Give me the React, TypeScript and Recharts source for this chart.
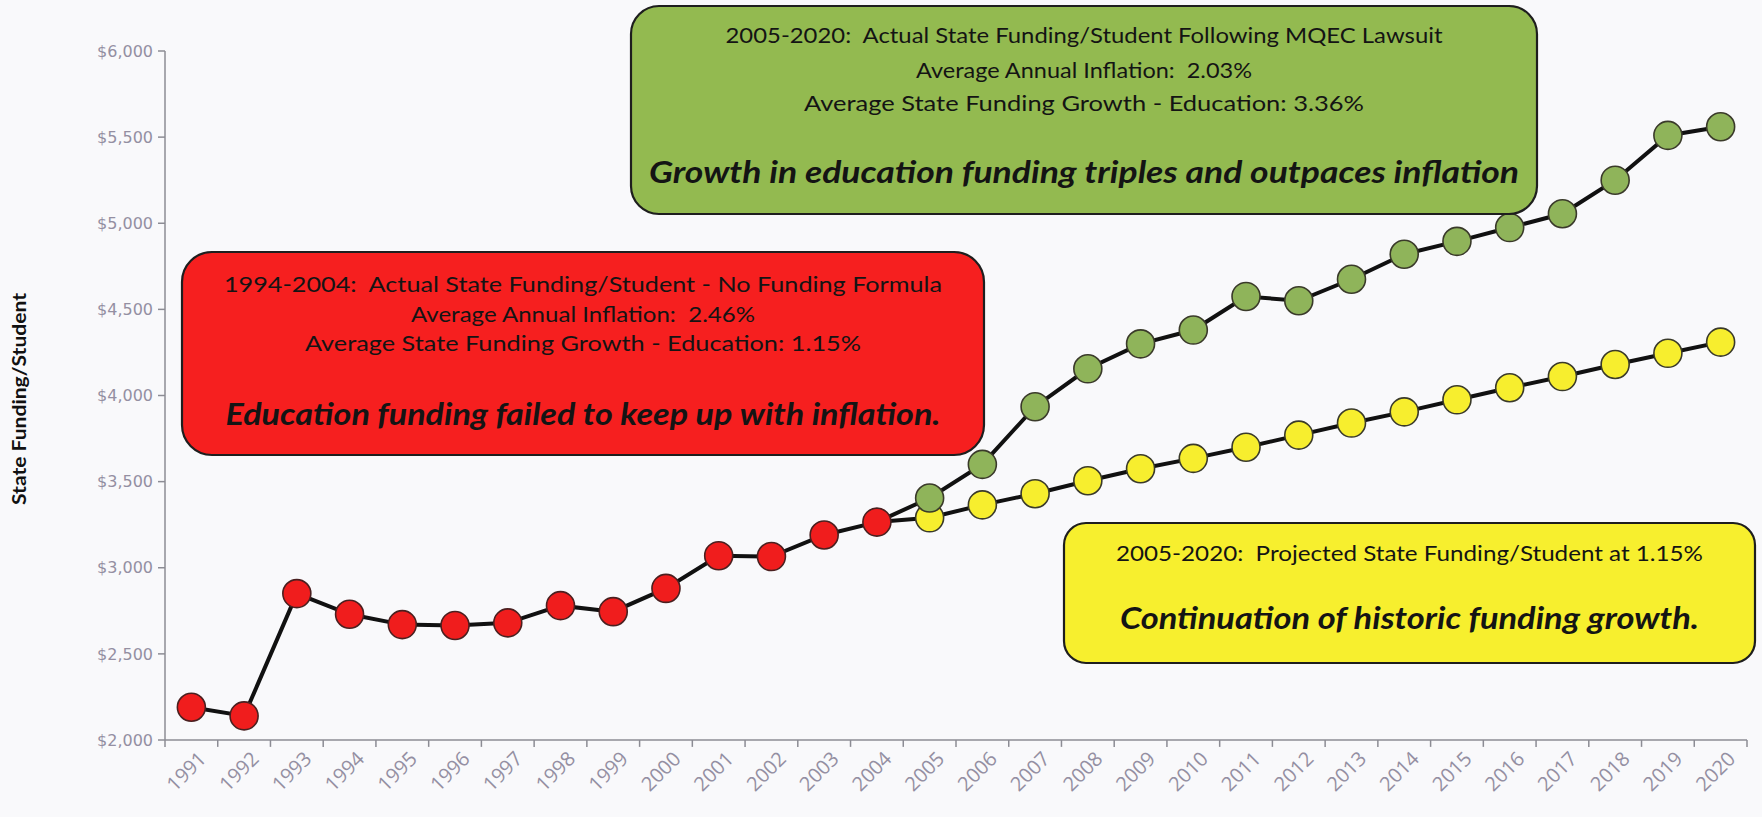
import { Line, LineChart, ReferenceLine, XAxis, YAxis } from "recharts";

const years = [
  1991, 1992, 1993, 1994, 1995, 1996, 1997, 1998, 1999, 2000, 2001, 2002, 2003, 2004, 2005,
  2006, 2007, 2008, 2009, 2010, 2011, 2012, 2013, 2014, 2015, 2016, 2017, 2018, 2019, 2020,
];

// 1991-2004, actual funding with no formula
const actualFunding = [2190, 2140, 2850, 2730, 2670, 2665, 2680, 2780, 2745, 2880, 3070, 3065, 3190, 3265];

// 2004-2020, actual funding after the MQEC lawsuit
const postLawsuitFunding = [
  3265, 3405, 3600, 3935, 4155, 4300, 4380, 4575, 4550, 4675, 4820, 4895, 4975, 5055, 5250, 5510, 5560,
];

// 2004-2020, projected at 1.15%
const projectedFunding = [
  3265, 3290, 3365, 3430, 3505, 3575, 3635, 3700, 3770, 3840, 3905, 3975, 4045, 4110, 4180, 4245, 4310,
];

const yTicks = [2000, 2500, 3000, 3500, 4000, 4500, 5000, 5500, 6000];

const splitIndex = years.indexOf(2004);

const data = years.map((year, i) => ({
  year,
  actual: i < actualFunding.length ? actualFunding[i] : null,
  postLawsuit: i >= splitIndex ? postLawsuitFunding[i - splitIndex] : null,
  projected: i >= splitIndex ? projectedFunding[i - splitIndex] : null,
}));

// small tick marks sit between the years
const yearEdges = [...years.map((y) => y - 0.5), years[years.length - 1] + 0.5];

const AXIS = "#8c8c94";
const LABEL = "#948fa2";
const BOX_FONT = "Lato, 'Open Sans', sans-serif";

function makeDot(fill: string) {
  return (props: any) => {
    const { cx, cy, payload, index } = props;
    if (payload.year === 2004 || cy == null) return <g key={`d-${index}`} />;
    return <circle key={`d-${index}`} cx={cx} cy={cy} r={14} fill={fill} stroke="#3a3a2a" strokeWidth={1.6} />;
  };
}

function Note({ x, y, w, h, r, fill, lines }: any) {
  return (
    <g>
      <rect x={x} y={y} width={w} height={h} rx={r} ry={r} fill={fill} stroke="#1e1e1e" strokeWidth={2.2} />
      {lines.map((l: any, i: number) => (
        <text
          key={i}
          x={x + w / 2}
          y={l.y}
          textAnchor="middle"
          textLength={l.len}
          lengthAdjust="spacingAndGlyphs"
          fontFamily={BOX_FONT}
          fontSize={l.big ? 30 : 22}
          fontStyle={l.big ? "italic" : "normal"}
          fontWeight={l.big ? 700 : 400}
          fill="#141414"
          style={{ whiteSpace: "pre" }}
        >
          {l.text}
        </text>
      ))}
    </g>
  );
}

export default function App() {
  return (
    <div style={{ position: "absolute", left: 0, top: 0, width: 1762, height: 817, background: "#f9f9fb" }}>
      <LineChart width={1762} height={817} data={data} margin={{ top: 51, right: 15, left: 0, bottom: 0 }}>
        <XAxis
          dataKey="year"
          type="number"
          domain={[1990.5, 2020.5]}
          ticks={years}
          interval={0}
          angle={-45}
          textAnchor="end"
          tickLine={false}
          tickSize={0}
          tickMargin={10}
          tick={{ fill: LABEL, fontSize: 20, fontFamily: "'Open Sans', sans-serif", dx: 6 }}
          height={77}
          stroke={AXIS}
          strokeWidth={1.5}
        />
        <YAxis
          domain={[2000, 6000]}
          ticks={yTicks}
          width={165}
          tickSize={7}
          tickMargin={5}
          stroke={AXIS}
          strokeWidth={1.5}
          tick={{ fill: LABEL, fontSize: 16, fontFamily: "'DejaVu Sans', sans-serif" }}
          tickFormatter={(v: number) => `$${v.toLocaleString("en-US")}`}
        />
        {yearEdges.map((edge) => (
          <ReferenceLine
            key={edge}
            segment={[
              { x: edge, y: 2000 },
              { x: edge, y: 1960 },
            ]}
            ifOverflow="visible"
            stroke={AXIS}
            strokeWidth={1.5}
          />
        ))}
        <Line
          dataKey="projected"
          stroke="#111"
          strokeWidth={4}
          dot={makeDot("#f7ee2e")}
          activeDot={false}
          isAnimationActive={false}
        />
        <Line
          dataKey="postLawsuit"
          stroke="#111"
          strokeWidth={4}
          dot={makeDot("#8fb45a")}
          activeDot={false}
          isAnimationActive={false}
        />
        <Line
          dataKey="actual"
          stroke="#111"
          strokeWidth={4}
          dot={{ r: 14, fill: "#f01d1d", stroke: "#4a2020", strokeWidth: 1.6 }}
          activeDot={false}
          isAnimationActive={false}
        />
      </LineChart>
      <svg
        width={1762}
        height={817}
        style={{ position: "absolute", left: 0, top: 0, pointerEvents: "none" }}
      >
        <text
          x={26}
          y={399}
          transform="rotate(-90 26 399)"
          textAnchor="middle"
          textLength={212}
          lengthAdjust="spacingAndGlyphs"
          fontFamily={BOX_FONT}
          fontWeight={700}
          fontSize={19}
          fill="#111"
        >
          State Funding/Student
        </text>
        <Note
          x={631}
          y={6}
          w={906}
          h={208}
          r={28}
          fill="#93ba50"
          lines={[
            { text: "2005-2020:  Actual State Funding/Student Following MQEC Lawsuit", y: 43, len: 717 },
            { text: "Average Annual Inflation:  2.03%", y: 78, len: 336 },
            { text: "Average State Funding Growth - Education: 3.36%", y: 111, len: 560 },
            { text: "Growth in education funding triples and outpaces inflation", y: 183, len: 870, big: true },
          ]}
        />
        <Note
          x={182}
          y={252}
          w={802}
          h={203}
          r={30}
          fill="#f61f1f"
          lines={[
            { text: "1994-2004:  Actual State Funding/Student - No Funding Formula", y: 292, len: 718 },
            { text: "Average Annual Inflation:  2.46%", y: 322, len: 344 },
            { text: "Average State Funding Growth - Education: 1.15%", y: 351, len: 556 },
            { text: "Education funding failed to keep up with inflation.", y: 425, len: 715, big: true },
          ]}
        />
        <Note
          x={1064}
          y={523}
          w={691}
          h={140}
          r={22}
          fill="#f7ef2e"
          lines={[
            { text: "2005-2020:  Projected State Funding/Student at 1.15%", y: 561, len: 587 },
            { text: "Continuation of historic funding growth.", y: 629, len: 579, big: true },
          ]}
        />
      </svg>
    </div>
  );
}
